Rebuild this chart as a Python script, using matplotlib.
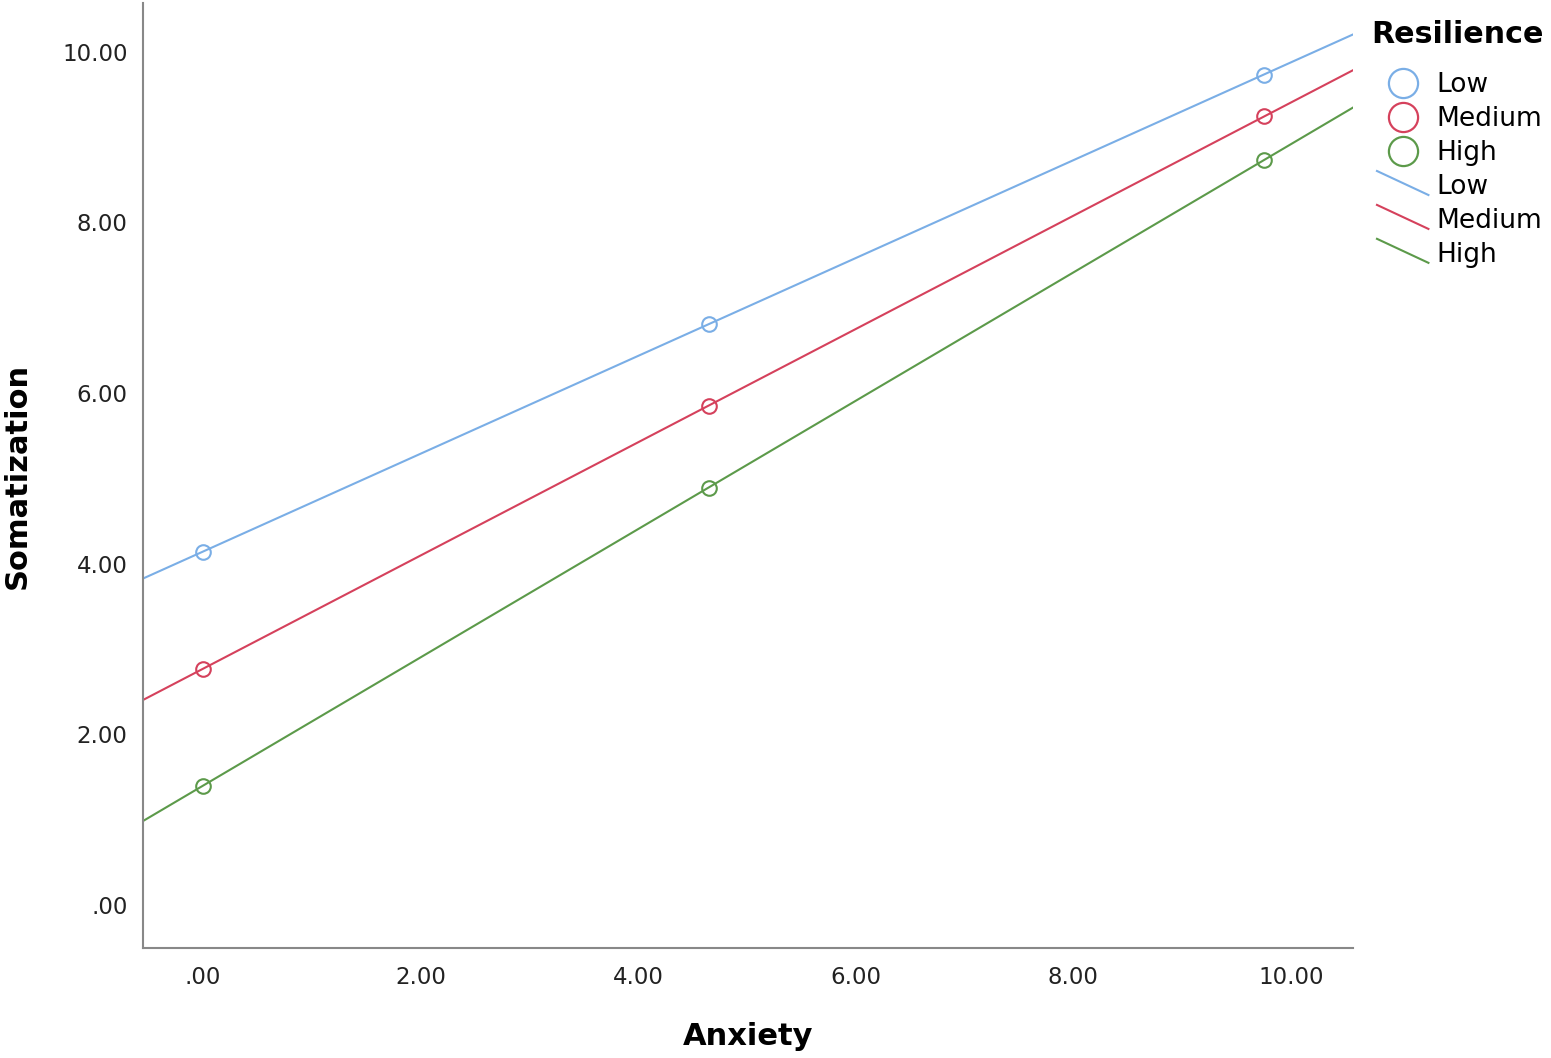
import numpy as np
import matplotlib
matplotlib.use("Agg")
import matplotlib.pyplot as plt
from matplotlib.lines import Line2D
from matplotlib.legend_handler import HandlerLine2D

# data
groups = ["Low", "Medium", "High"]
colors = ["#7aaee6", "#d5415c", "#5c9a4a"]
anxiety = [0.0, 4.65, 9.75]
soma_low = [4.14, 6.81, 9.73]
soma_medium = [2.77, 5.85, 9.24]
soma_high = [1.40, 4.89, 8.73]
x_ticks = [0, 2, 4, 6, 8, 10]
y_ticks = [0, 2, 4, 6, 8, 10]


class SlantHandler(HandlerLine2D):
    # legend line drawn as a downward diagonal like SPSS
    def create_artists(self, legend, orig_handle, xdescent, ydescent,
                       width, height, fontsize, trans):
        ln = Line2D([-xdescent, width - xdescent],
                    [height * 1.25 - ydescent, -ydescent - 0.05 * height],
                    color=orig_handle.get_color(), lw=orig_handle.get_linewidth())
        ln.set_transform(trans)
        return [ln]


plt.rcParams['font.family'] = ['DejaVu Sans']
fig = plt.figure(figsize=(15.51, 10.58), dpi=100)
ax = fig.add_axes([143 / 1551, 110 / 1058, 1210 / 1551, 945 / 1058])

xlim = (-0.551, 10.57)
series = [soma_low, soma_medium, soma_high]
pts, lns = [], []
for name, col, ys in zip(groups, colors, series):
    slope, icpt = np.polyfit(anxiety, ys, 1)
    xx = np.array(xlim)
    l, = ax.plot(xx, icpt + slope * xx, color=col, lw=1.5, zorder=2)
    ax.plot(anxiety, ys, 'o', mfc='none', mec=col, ms=10.5, mew=1.5, zorder=3)
    pts.append(Line2D([], [], marker='o', ls='none', mfc='none', mec=col, ms=21, mew=1.6))
    lns.append(l)

ax.set_xlim(*xlim)
ax.set_ylim(-0.504, 10.57)
ax.set_xticks(x_ticks)
ax.set_yticks(y_ticks)
fmt = lambda v: ".00" if v == 0 else "%.2f" % v
ax.set_xticklabels([fmt(v) for v in x_ticks])
ax.set_yticklabels([fmt(v) for v in y_ticks])
ax.tick_params(length=0, labelsize=16.5, colors='#222222', pad=13)
ax.tick_params(axis='y', pad=11)
for s in ['top', 'right']:
    ax.spines[s].set_visible(False)
for s in ['left', 'bottom']:
    ax.spines[s].set_color('#888888')
    ax.spines[s].set_linewidth(1.5)

ax.set_xlabel("Anxiety", fontsize=22, fontweight='bold', labelpad=24)
ax.set_ylabel("Somatization", fontsize=22, fontweight='bold', labelpad=22)

handles = pts + lns
labels = groups + groups
leg = fig.legend(handles, labels, loc='upper left',
                 bbox_to_anchor=(1371 / 1551, 1 - 20 / 1058),
                 frameon=False, title="Resilience", alignment='left',
                 fontsize=19, title_fontproperties={'size': 21.7, 'weight': 'bold'},
                 handlelength=1.95, handletextpad=0.3, labelspacing=0.3,
                 borderpad=0, borderaxespad=0,
                 handler_map={l: SlantHandler() for l in lns})
# nudge the entries right of the title, keep the title gap
leg._legend_handle_box.pad = 4.3
leg._legend_box.sep = 12.5

fig.savefig("out.png", dpi=100)
